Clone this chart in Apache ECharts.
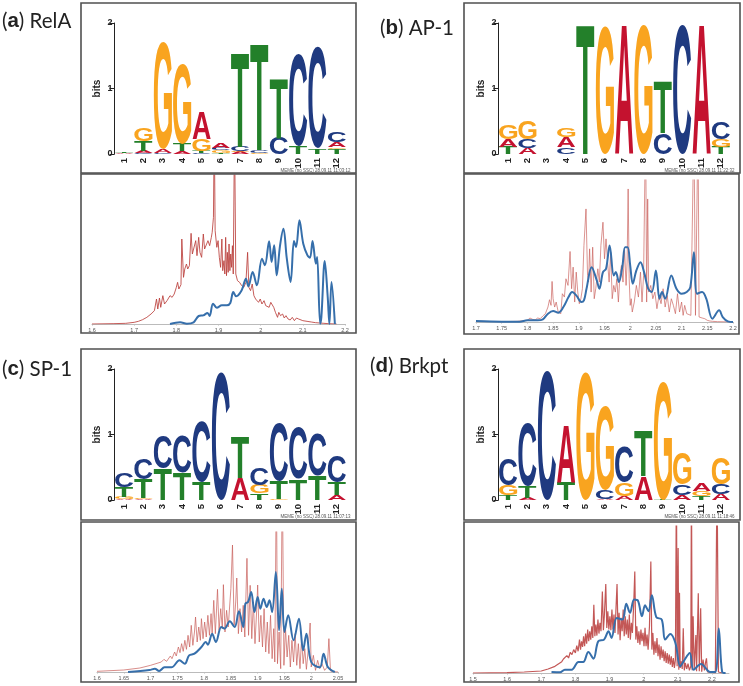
<!DOCTYPE html>
<html><head><meta charset="utf-8">
<style>html,body{margin:0;padding:0;background:#fff}#c{width:743px;height:686px}canvas{filter:blur(.35px)}</style>
<script src="https://cdn.jsdelivr.net/npm/echarts@6/dist/echarts.min.js"></script>
</head><body><div id="c"></div>
<script>
const positions = ['1','2','3','4','5','6','7','8','9','10','11','12'];
// logo stacks, bottom to top: [letter, bits]
const logoA = [
 [['A',.008],['C',.006],['G',.006],['T',.008]],
 [['C',.01],['A',.04],['T',.15],['G',.2]],
 [['C',.02],['A',.05],['G',1.63]],
 [['A',.04],['T',.11],['G',1.22]],
 [['C',.02],['T',.03],['G',.18],['A',.42]],
 [['T',.02],['G',.04],['C',.03],['A',.07]],
 [['A',.03],['G',.01],['C',.07],['T',1.44]],
 [['G',.02],['C',.04],['T',1.62]],
 [['C',.25],['T',.91]],
 [['T',.12],['C',1.4]],
 [['T',.08],['C',1.55]],
 [['T',.08],['G',.02],['A',.08],['C',.16]]
];
const logoB = [
 [['T',.11],['A',.12],['G',.22]],
 [['A',.09],['C',.14],['G',.27]],
 [],
 [['C',.1],['A',.16],['G',.14]],
 [['T',1.985]],
 [['G',1.96]],
 [['A',1.98]],
 [['G',1.97]],
 [['C',.32],['T',.795]],
 [['C',1.97]],
 [['A',1.98]],
 [['T',.11],['G',.11],['C',.25]]
];
const logoC = [
 [['A',.02],['G',.03],['T',.15],['C',.21]],
 [['A',.02],['G',.01],['T',.29],['C',.32]],
 [['T',.48],['C',.51]],
 [['T',.42],['C',.57]],
 [['T',.28],['C',.92]],
 [['C',1.96]],
 [['A',.33],['T',.64]],
 [['T',.1],['G',.13],['C',.26]],
 [['G',.01],['T',.28],['C',.89]],
 [['T',.32],['C',.79]],
 [['T',.38],['C',.64]],
 [['A',.07],['T',.2],['C',.41]]
];
const logoD = [
 [['T',.07],['G',.16],['C',.41]],
 [['A',.03],['T',.18],['C',.96]],
 [['C',1.97]],
 [['T',.28],['A',.88]],
 [['G',1.95]],
 [['A',.01],['C',.14],['G',1.28]],
 [['A',.06],['G',.2],['C',.55]],
 [['A',.36],['T',.7]],
 [['T',.01],['G',1.82]],
 [['A',.08],['C',.15],['G',.49]],
 [['T',.06],['G',.07],['A',.11]],
 [['A',.09],['C',.15],['G',.4]]
];
const stampA = 'MEME (no SSC) 28.09.11 11:03:12';
const stampB = 'MEME (no SSC) 28.09.11 11:22:32';
const stampC = 'MEME (no SSC) 28.09.11 11:07:13';
const stampD = 'MEME (no SSC) 28.09.11 11:18:46';

const redA = [[1.6,0],[1.65,1],[1.68,2],[1.7,5],[1.71,8],[1.72,13],[1.73,20],[1.74,30],[1.748,40],[1.753,75],[1.756,45],[1.76,78],[1.763,50],[1.768,85],[1.772,60],[1.778,70],[1.785,85],[1.79,80],[1.795,90],[1.8,110],[1.803,125],[1.806,105],[1.811,118],[1.813,255],[1.817,140],[1.82,165],[1.824,180],[1.827,165],[1.831,175],[1.835,272],[1.838,210],[1.842,205],[1.846,250],[1.849,205],[1.853,260],[1.856,215],[1.86,200],[1.864,270],[1.867,225],[1.871,220],[1.875,250],[1.879,235],[1.883,260],[1.885,275],[1.888,320],[1.89,600],[1.892,280],[1.896,230],[1.899,250],[1.902,200],[1.905,170],[1.908,255],[1.91,160],[1.913,190],[1.915,150],[1.917,260],[1.919,145],[1.921,215],[1.923,155],[1.925,240],[1.927,160],[1.929,210],[1.931,170],[1.933,235],[1.935,150],[1.938,600],[1.941,150],[1.945,130],[1.95,125],[1.955,115],[1.96,110],[1.965,125],[1.969,215],[1.972,110],[1.976,100],[1.98,120],[1.984,85],[1.988,75],[1.992,80],[1.995,65],[1.999,75],[2.003,60],[2.008,70],[2.012,55],[2.016,60],[2.02,50],[2.024,65],[2.028,60],[2.031,50],[2.035,35],[2.04,20],[2.043,35],[2.047,25],[2.052,30],[2.056,18],[2.06,25],[2.065,15],[2.07,12],[2.075,20],[2.08,10],[2.085,18],[2.09,15],[2.1,10],[2.11,8],[2.12,6],[2.13,4],[2.14,3],[2.15,2],[2.16,1],[2.18,0]];
const blueA = [[1.785,0],[1.809,5],[1.825,1],[1.841,5],[1.853,24],[1.864,26],[1.874,33],[1.879,24],[1.887,61],[1.896,49],[1.908,56],[1.92,56],[1.928,63],[1.935,96],[1.942,83],[1.955,101],[1.965,136],[1.971,113],[1.981,156],[1.991,116],[2.003,196],[2.01,176],[2.02,248],[2.026,186],[2.032,236],[2.038,146],[2.046,236],[2.054,286],[2.062,196],[2.071,126],[2.079,249],[2.084,231],[2.092,311],[2.101,241],[2.111,206],[2.117,199],[2.123,249],[2.131,181],[2.134,201],[2.141,1],[2.144,21],[2.152,189],[2.159,81],[2.163,0],[2.168,126],[2.176,0]];
const redB = [[1.7,2],[1.75,1],[1.78,2],[1.8,5],[1.805,12],[1.81,8],[1.815,6],[1.82,12],[1.825,10],[1.83,18],[1.835,25],[1.84,45],[1.843,67],[1.846,50],[1.848,122],[1.85,70],[1.853,45],[1.856,60],[1.86,30],[1.865,25],[1.868,85],[1.872,75],[1.875,130],[1.879,110],[1.883,212],[1.886,100],[1.889,165],[1.892,60],[1.895,150],[1.898,90],[1.901,55],[1.904,70],[1.907,100],[1.91,230],[1.914,340],[1.917,140],[1.919,120],[1.921,220],[1.924,90],[1.927,225],[1.93,70],[1.933,100],[1.937,160],[1.94,120],[1.943,230],[1.947,300],[1.95,190],[1.953,250],[1.956,180],[1.959,120],[1.962,210],[1.965,70],[1.968,110],[1.971,90],[1.974,130],[1.977,60],[1.98,140],[1.983,170],[1.986,120],[1.989,220],[1.992,110],[1.994,180],[1.996,400],[1.998,130],[2.0,50],[2.002,70],[2.004,30],[2.008,60],[2.012,110],[2.016,75],[2.02,150],[2.023,60],[2.026,140],[2.03,600],[2.032,60],[2.034,370],[2.036,90],[2.04,110],[2.044,70],[2.048,90],[2.052,40],[2.056,80],[2.06,55],[2.064,100],[2.068,45],[2.072,80],[2.076,30],[2.08,70],[2.084,50],[2.088,25],[2.092,85],[2.096,30],[2.1,60],[2.103,20],[2.106,50],[2.11,25],[2.113,30],[2.118,20],[2.124,600],[2.127,20],[2.132,600],[2.134,15],[2.14,12],[2.145,10],[2.15,5],[2.155,3],[2.16,2],[2.17,1],[2.2,0]];
const blueB = [[1.7,3],[1.75,1],[1.785,1],[1.8,5],[1.82,5],[1.83,8],[1.84,25],[1.85,33],[1.86,28],[1.87,45],[1.88,75],[1.887,90],[1.895,80],[1.905,60],[1.91,65],[1.915,100],[1.925,165],[1.935,125],[1.94,100],[1.947,150],[1.953,160],[1.96,230],[1.968,140],[1.972,150],[1.978,120],[1.985,170],[1.99,225],[1.995,225],[2.0,170],[2.005,115],[2.012,155],[2.02,180],[2.027,150],[2.035,100],[2.042,90],[2.05,155],[2.057,70],[2.062,90],[2.068,70],[2.08,140],[2.09,100],[2.1,85],[2.11,90],[2.117,105],[2.124,210],[2.13,85],[2.14,90],[2.148,70],[2.16,10],[2.173,35],[2.18,15],[2.19,2],[2.2,0]];
const redC = [[1.6,2],[1.65,6],[1.68,12],[1.7,20],[1.72,30],[1.725,38],[1.73,32],[1.737,48],[1.74,40],[1.745,60],[1.748,48],[1.752,75],[1.755,58],[1.758,85],[1.761,62],[1.764,95],[1.767,68],[1.77,110],[1.773,75],[1.776,140],[1.779,80],[1.782,120],[1.784,165],[1.787,90],[1.79,135],[1.793,95],[1.795,160],[1.798,100],[1.801,150],[1.804,105],[1.807,170],[1.81,110],[1.813,175],[1.815,115],[1.818,215],[1.821,115],[1.825,248],[1.828,125],[1.831,190],[1.834,130],[1.836,262],[1.839,120],[1.842,185],[1.845,135],[1.85,250],[1.853,381],[1.856,140],[1.859,210],[1.861,282],[1.864,115],[1.867,190],[1.87,120],[1.873,200],[1.876,105],[1.88,341],[1.883,110],[1.886,260],[1.889,100],[1.892,210],[1.895,85],[1.898,180],[1.9,261],[1.903,90],[1.906,170],[1.909,75],[1.912,190],[1.915,60],[1.918,150],[1.921,55],[1.924,170],[1.927,40],[1.93,130],[1.932,30],[1.935,600],[1.937,25],[1.94,120],[1.943,10],[1.946,600],[1.949,20],[1.952,130],[1.955,45],[1.958,110],[1.961,15],[1.964,95],[1.967,30],[1.97,115],[1.973,20],[1.976,85],[1.979,10],[1.982,100],[1.985,25],[1.988,70],[1.991,8],[1.994,60],[1.998,147],[2.0,15],[2.004,50],[2.008,5],[2.012,35],[2.016,10],[2.02,25],[2.025,5],[2.03,15],[2.033,100],[2.036,3],[2.04,1],[2.05,0]];
const blueC = [[1.658,0],[1.698,6],[1.708,10],[1.716,3],[1.726,14],[1.739,14],[1.754,35],[1.764,25],[1.772,50],[1.782,55],[1.795,75],[1.803,90],[1.807,82],[1.815,115],[1.822,90],[1.832,135],[1.838,130],[1.848,152],[1.857,135],[1.865,182],[1.873,135],[1.877,205],[1.882,210],[1.888,240],[1.894,180],[1.9,225],[1.905,190],[1.911,220],[1.917,195],[1.922,215],[1.927,180],[1.934,300],[1.94,125],[1.945,250],[1.95,120],[1.957,170],[1.967,95],[1.977,160],[1.985,65],[1.991,115],[2.0,30],[2.016,14],[2.023,55],[2.031,15],[2.044,0]];
const redD = [[1.5,0],[1.6,1],[1.65,3],[1.7,6],[1.72,12],[1.74,20],[1.75,27],[1.76,34],[1.765,42],[1.77,38],[1.775,52],[1.78,45],[1.785,62],[1.79,55],[1.795,70],[1.8,60],[1.804,82],[1.808,65],[1.812,100],[1.815,70],[1.818,95],[1.821,78],[1.824,110],[1.827,80],[1.83,118],[1.833,88],[1.836,130],[1.839,95],[1.842,125],[1.845,100],[1.848,140],[1.851,105],[1.854,204],[1.857,110],[1.86,145],[1.863,112],[1.866,160],[1.869,118],[1.872,150],[1.875,125],[1.879,244],[1.882,128],[1.885,175],[1.889,266],[1.892,135],[1.895,185],[1.898,130],[1.901,170],[1.904,128],[1.907,190],[1.91,130],[1.913,175],[1.916,120],[1.919,195],[1.922,266],[1.925,115],[1.928,180],[1.931,98],[1.934,165],[1.937,125],[1.94,190],[1.943,110],[1.946,170],[1.949,115],[1.952,160],[1.955,105],[1.958,175],[1.961,100],[1.964,150],[1.967,120],[1.971,210],[1.974,304],[1.977,100],[1.98,140],[1.983,90],[1.986,125],[1.989,85],[1.992,130],[1.995,95],[1.998,120],[2.001,80],[2.004,135],[2.007,80],[2.01,115],[2.013,70],[2.017,140],[2.021,334],[2.024,70],[2.027,120],[2.03,55],[2.033,95],[2.036,60],[2.039,105],[2.042,50],[2.045,85],[2.048,40],[2.051,80],[2.054,45],[2.057,70],[2.06,35],[2.063,65],[2.066,30],[2.069,60],[2.072,28],[2.075,55],[2.078,25],[2.081,50],[2.084,18],[2.087,45],[2.09,15],[2.093,40],[2.096,600],[2.098,20],[2.101,374],[2.103,10],[2.105,240],[2.107,15],[2.11,35],[2.113,12],[2.116,134],[2.119,8],[2.122,30],[2.126,12],[2.13,28],[2.134,8],[2.138,20],[2.14,600],[2.142,8],[2.145,170],[2.148,10],[2.153,114],[2.155,5],[2.16,239],[2.163,5],[2.167,194],[2.17,4],[2.174,40],[2.178,8],[2.181,30],[2.184,44],[2.187,3],[2.19,0],[2.21,0],[2.215,600],[2.219,3],[2.23,0]];
const blueD = [[1.73,3],[1.755,2],[1.769,10],[1.789,10],[1.809,33],[1.823,33],[1.838,63],[1.853,43],[1.867,95],[1.884,100],[1.897,125],[1.906,105],[1.921,165],[1.938,160],[1.949,207],[1.96,180],[1.972,220],[1.983,217],[1.995,170],[2.004,203],[2.014,185],[2.024,233],[2.037,167],[2.053,160],[2.063,100],[2.078,117],[2.093,90],[2.107,20],[2.117,35],[2.135,60],[2.146,10],[2.168,27],[2.195,3],[2.21,3],[2.22,133],[2.23,3],[2.24,0]];

const LETTER_COLORS = {A:'#c4122f',C:'#1f3a80',G:'#f9a41f',T:'#23802a'};
const FONT = 'bold 100px "Liberation Sans"';
const mctx = document.createElement('canvas').getContext('2d');
function metric(ch){
  mctx.font = FONT; mctx.textBaseline='middle'; mctx.textAlign='left';
  const m = mctx.measureText(ch);
  return {l:m.actualBoundingBoxLeft,r:m.actualBoundingBoxRight,a:m.actualBoundingBoxAscent,d:m.actualBoundingBoxDescent};
}
const METRICS = {A:metric('A'),C:metric('C'),G:metric('G'),T:metric('T')};

const chart = echarts.init(document.getElementById('c'),null,{renderer:'canvas'});
const grids=[],xAxes=[],yAxes=[],series=[],graphics=[];

function frame(x,y,w,h){graphics.push({type:'rect',shape:{x,y,width:w,height:h},style:{fill:'none',stroke:'#505050',lineWidth:1.6},z:50});}
function heading(x,y,l,name){
  graphics.push({type:'text',x,y,z:60,style:{
    rich:{p:{font:'20.5px Lato',fill:'#222'},b:{font:'bold 20.5px "Liberation Sans"',fill:'#222'}},
    text:'{p|(}{b|'+l+'}{p|) '+name+'}',verticalAlign:'middle',align:'left'}});
}
function logo(stacks,left,top,stamp){
  const gi=grids.length;
  grids.push({left,top,width:232,height:131});
  xAxes.push({gridIndex:gi,type:'category',data:positions,axisLine:{show:false},axisTick:{show:false},
    axisLabel:{rotate:90,margin:4,interval:0,fontWeight:'bold',fontSize:9.5,fontFamily:'Liberation Sans',color:'#222'}});
  yAxes.push({gridIndex:gi,type:'value',min:0,max:2,interval:1,splitLine:{show:false},
    axisLine:{show:true,lineStyle:{color:'#222',width:1}},axisTick:{show:true,length:5,lineStyle:{color:'#222'}},
    axisLabel:{margin:2,fontWeight:'bold',fontSize:9,fontFamily:'Liberation Sans',color:'#222'},
    name:'bits',nameLocation:'middle',nameGap:12,nameTextStyle:{fontWeight:'bold',fontSize:10,fontFamily:'Liberation Sans',color:'#222'}});
  const items=[];
  stacks.forEach((st,i)=>{let b=0;st.forEach(([c,h])=>{items.push({pos:i,base:b,h,c});b+=h;});});
  series.push({type:'custom',xAxisIndex:gi,yAxisIndex:gi,clip:false,animation:false,silent:true,
    data:items.map(d=>[d.pos,d.base,d.h]),encode:{x:0,y:1},
    renderItem(params,api){
      const d=items[params.dataIndex],p0=api.coord([d.pos,d.base]),p1=api.coord([d.pos,d.base+d.h]);
      const w=api.size([1,0])[0]*0.94,m=METRICS[d.c];
      const sx=w/(m.l+m.r),sy=(p0[1]-p1[1])/(m.a+m.d);
      return {type:'text',x:p0[0]-w/2+m.l*sx,y:p0[1]-m.d*sy,scaleX:sx,scaleY:sy,
        style:{text:d.c,font:FONT,fill:LETTER_COLORS[d.c],align:'left',verticalAlign:'middle'}};
    }});
  graphics.push({type:'text',x:left+232+4,y:top+131+17,z:60,style:{text:stamp,font:'4.5px "Liberation Sans"',fill:'#555',align:'right',verticalAlign:'middle'}});
}
function density(red,blue,left,width,top,height,min,max,yMax,interval,redWidth,redColor){
  const gi=grids.length;
  grids.push({left,top,width,height});
  xAxes.push({gridIndex:gi,type:'value',min,max,interval,splitLine:{show:false},
    axisLine:{show:true,onZero:false,lineStyle:{color:'#bbb',width:1}},axisTick:{show:true,length:1.5,lineStyle:{color:'#bbb'}},
    axisLabel:{margin:3,fontSize:5.5,fontFamily:'Liberation Sans',color:'#555',showMaxLabel:max!==2.25}});
  yAxes.push({gridIndex:gi,type:'value',min:0,max:yMax,show:false,splitLine:{show:false}});
  series.push({type:'line',xAxisIndex:gi,yAxisIndex:gi,data:red,symbol:'none',animation:false,silent:true,clip:true,
    lineStyle:{color:redColor,width:redWidth,opacity:.85}});
  series.push({type:'line',xAxisIndex:gi,yAxisIndex:gi,data:blue,symbol:'none',animation:false,silent:true,clip:true,smooth:0.35,
    lineStyle:{color:'#366fab',width:2}});
}
frame(81,3,275,170);frame(81,174,275,159);
frame(464,3,276,170);frame(464,174,275,160);
frame(81,349,275,171);frame(81,522,275,160);
frame(464,349,276,171);frame(464,522,275,160);
heading(2,21,'a','RelA');heading(380,28,'b','AP-1');heading(2,369,'c','SP-1');heading(370,366,'d','Brkpt');

logo(logoA,114.5,23,stampA);
logo(logoB,498.5,23,stampB);
logo(logoC,114.5,369,stampC);
logo(logoD,498.5,369,stampD);
density(redA,blueA,92,253,175,149,1.6,2.2,447,0.1,1,'#bb3f3c');
density(redB,blueB,476,257,180,142,1.7,2.2,427,0.05,.8,'#c9605c');
density(redC,blueC,97,241,532,140,1.6,2.05,420,0.05,.85,'#c9605c');
density(redD,blueD,473,256,526,147,1.5,2.25,440,0.1,1.2,'#b83a38');

chart.setOption({animation:false,backgroundColor:'#fff',grid:grids,xAxis:xAxes,yAxis:yAxes,series,graphic:graphics});
</script></body></html>
